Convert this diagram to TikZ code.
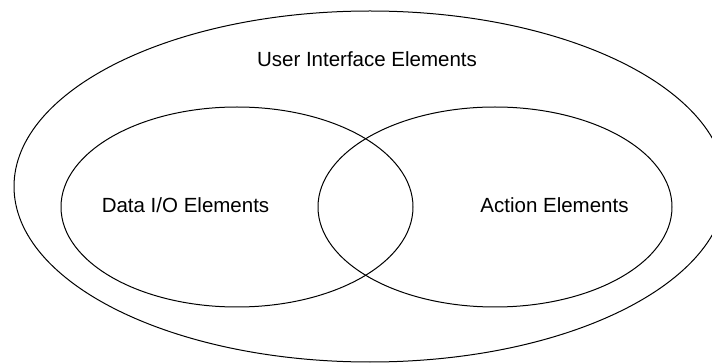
\documentclass[tikz,border=0pt]{standalone}
\usepackage{fontspec}
\setmainfont{Liberation Sans}
\usetikzlibrary{shapes.geometric}
\begin{document}
\begin{tikzpicture}[x=1pt,y=-1pt,
  setring/.style={draw=black,line width=1pt,fill=none},
  setlabel/.style={font=\fontsize{20.5}{24}\selectfont,text=black,inner sep=0pt,anchor=base}]
  \useasboundingbox (0,0) rectangle (712,363);
  \clip (0,0) rectangle (712,363);
  % outer set: all interface elements
  \draw[setring] (370,186.5) ellipse [x radius=356, y radius=175.5];
  % the two overlapping subsets
  \draw[setring] (237,207) ellipse [x radius=176, y radius=100];
  \draw[setring] (495,207) ellipse [x radius=177, y radius=100];
  % labels
  \node[setlabel] (ui) at (367,67) {User Interface Elements};
  \node[setlabel] (dataio) at (185.5,213) {Data I/O Elements};
  \node[setlabel] (action) at (554.5,213) {Action Elements};
\end{tikzpicture}
\end{document}
